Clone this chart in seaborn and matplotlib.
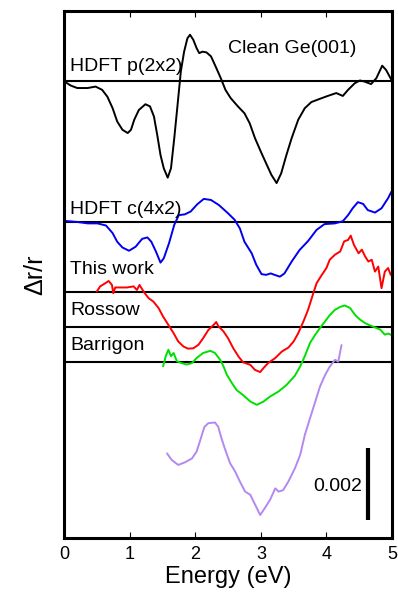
import numpy as np
import seaborn as sns
import matplotlib.pyplot as plt

# energies (eV) and dr/r (units of 1e-3, relative to each curve's baseline)
hdft_p_x = [0.0, 0.10, 0.20, 0.36, 0.48, 0.58, 0.66, 0.74, 0.81, 0.89, 0.97, 1.02, 1.07, 1.14,
            1.24, 1.31, 1.37, 1.42, 1.47, 1.52, 1.58, 1.63, 1.68, 1.73, 1.78, 1.83, 1.88, 1.92,
            1.97, 2.02, 2.06, 2.11, 2.17, 2.24, 2.31, 2.39, 2.46, 2.54, 2.65, 2.75, 2.83, 2.91,
            3.01, 3.08, 3.16, 3.24, 3.31, 3.39, 3.47, 3.57, 3.67, 3.77, 3.90, 4.02, 4.15, 4.25,
            4.33, 4.43, 4.51, 4.58, 4.68, 4.76, 4.85, 4.91, 4.99]
hdft_p_y = [0.0, -0.12, -0.19, -0.19, -0.15, -0.24, -0.43, -0.75, -1.12, -1.35, -1.44, -1.35, -1.07, -0.80,
            -0.64, -0.70, -0.98, -1.49, -2.05, -2.42, -2.68, -2.42, -1.58, -0.66, 0.27, 0.82, 1.19, 1.29,
            1.15, 0.92, 0.78, 0.82, 0.80, 0.69, 0.41, 0.08, -0.24, -0.47, -0.70, -0.89, -1.17, -1.58,
            -2.00, -2.28, -2.60, -2.83, -2.56, -2.05, -1.58, -1.07, -0.75, -0.58, -0.49, -0.41, -0.33, -0.41,
            -0.24, -0.06, 0.02, -0.01, -0.08, 0.08, 0.43, 0.31, 0.04]

hdft_c_x = [0.0, 0.20, 0.36, 0.51, 0.64, 0.74, 0.81, 0.89, 0.99, 1.09, 1.19, 1.27, 1.33, 1.40,
            1.47, 1.52, 1.60, 1.68, 1.75, 1.84, 1.93, 2.03, 2.13, 2.24, 2.36, 2.50, 2.60, 2.68,
            2.75, 2.86, 2.93, 3.01, 3.08, 3.15, 3.21, 3.29, 3.36, 3.47, 3.59, 3.72, 3.85, 3.97,
            4.13, 4.25, 4.33, 4.40, 4.48, 4.56, 4.63, 4.74, 4.84, 4.94, 4.99]
hdft_c_y = [0.03, 0.0, -0.04, -0.04, -0.10, -0.31, -0.55, -0.71, -0.80, -0.69, -0.47, -0.43, -0.55, -0.82,
            -1.13, -1.01, -0.59, -0.08, 0.19, 0.21, 0.29, 0.49, 0.64, 0.61, 0.47, 0.24, 0.06, -0.18,
            -0.55, -0.87, -1.19, -1.45, -1.47, -1.43, -1.47, -1.52, -1.43, -1.10, -0.78, -0.53, -0.22, -0.06,
            -0.04, 0.02, 0.19, 0.38, 0.55, 0.50, 0.33, 0.26, 0.38, 0.66, 0.84]

this_x = [0.50, 0.55, 0.63, 0.68, 0.73, 0.75, 0.78, 0.85, 0.96, 1.06, 1.11, 1.15, 1.18, 1.23,
          1.29, 1.36, 1.44, 1.51, 1.59, 1.67, 1.74, 1.82, 1.89, 1.97, 2.05, 2.12, 2.20, 2.28,
          2.32, 2.35, 2.43, 2.50, 2.58, 2.66, 2.73, 2.84, 2.91, 2.99, 3.04, 3.11, 3.22, 3.32,
          3.42, 3.50, 3.57, 3.65, 3.72, 3.80, 3.85, 3.93, 4.00, 4.05, 4.13, 4.21, 4.27, 4.33,
          4.37, 4.42, 4.49, 4.54, 4.59, 4.64, 4.69, 4.74, 4.79, 4.84, 4.89, 4.94, 4.98]
this_y = [0.02, 0.16, 0.25, 0.31, 0.20, -0.03, 0.13, 0.13, 0.13, 0.16, 0.06, 0.20, 0.11, -0.03,
          -0.17, -0.26, -0.44, -0.68, -0.91, -1.14, -1.37, -1.51, -1.57, -1.56, -1.46, -1.28, -1.05, -0.91,
          -0.83, -0.94, -1.09, -1.28, -1.56, -1.79, -1.95, -2.02, -2.16, -2.22, -2.11, -1.97, -1.83, -1.65,
          -1.54, -1.37, -1.14, -0.81, -0.49, -0.03, 0.25, 0.48, 0.67, 0.90, 1.04, 1.13, 1.41, 1.45,
          1.57, 1.31, 1.08, 1.18, 0.99, 0.85, 0.90, 0.57, 0.71, 0.11, 0.57, 0.67, 0.48]

rossow_x = [1.51, 1.55, 1.59, 1.63, 1.67, 1.72, 1.79, 1.87, 1.95, 2.02, 2.12, 2.23, 2.30, 2.38,
            2.43, 2.48, 2.56, 2.63, 2.73, 2.84, 2.94, 3.04, 3.14, 3.27, 3.39, 3.52, 3.60, 3.67,
            3.75, 3.83, 3.90, 3.98, 4.05, 4.13, 4.21, 4.28, 4.36, 4.44, 4.51, 4.59, 4.66, 4.74,
            4.82, 4.89, 4.94, 4.99]
rossow_y = [-0.12, 0.16, 0.34, 0.16, 0.25, 0.02, -0.03, -0.07, -0.03, 0.11, 0.25, 0.31, 0.25, 0.06,
            -0.12, -0.35, -0.59, -0.78, -0.92, -1.10, -1.19, -1.10, -0.96, -0.82, -0.64, -0.38, -0.12, 0.16,
            0.53, 0.76, 0.94, 1.13, 1.30, 1.45, 1.53, 1.57, 1.50, 1.30, 1.18, 1.08, 1.02, 0.96,
            0.90, 0.76, 0.79, 0.75]

barrigon_x = [1.57, 1.64, 1.74, 1.84, 1.95, 2.02, 2.07, 2.14, 2.20, 2.30, 2.35, 2.40, 2.45, 2.53,
              2.61, 2.68, 2.76, 2.84, 2.89, 2.99, 3.06, 3.14, 3.22, 3.27, 3.34, 3.42, 3.52, 3.60,
              3.67, 3.75, 3.83, 3.90, 3.98, 4.05, 4.13, 4.18, 4.23]
barrigon_y = [-0.04, -0.22, -0.36, -0.29, -0.18, 0.01, 0.29, 0.70, 0.80, 0.82, 0.70, 0.38, 0.10, -0.31,
              -0.55, -0.82, -1.10, -1.19, -1.38, -1.75, -1.56, -1.33, -1.01, -1.10, -1.06, -0.82, -0.45, -0.08,
              0.47, 0.94, 1.40, 1.81, 2.14, 2.37, 2.56, 2.51, 2.97]

# vertical offsets (units of 1e-3)
off_p, off_c, off_this, off_rossow, off_barr, off_purple = 12.69, 8.78, 6.83, 5.86, 4.89, 2.39

sns.set_style("ticks")
plt.rcParams['font.family'] = ['Liberation Sans', 'DejaVu Sans']
plt.rcParams['text.color'] = 'black'
plt.rcParams['axes.labelcolor'] = 'black'
plt.rcParams['xtick.color'] = 'black'

fig = plt.figure(figsize=(3.98, 5.97), dpi=100)
ax = fig.add_axes([0.161, 0.0988, 0.824, 0.8828])

lw = 1.4
sns.lineplot(x=hdft_p_x, y=np.array(hdft_p_y) + off_p, color='black', lw=lw, sort=False, ax=ax)
sns.lineplot(x=hdft_c_x, y=np.array(hdft_c_y) + off_c, color='#0000ee', lw=lw, sort=False, ax=ax)
sns.lineplot(x=this_x, y=np.array(this_y) + off_this, color='#ff0000', lw=lw, sort=False, ax=ax)
sns.lineplot(x=rossow_x, y=np.array(rossow_y) + off_barr, color='#00e000', lw=lw, sort=False, ax=ax)
sns.lineplot(x=barrigon_x, y=np.array(barrigon_y) + off_purple, color='#b388f0', lw=lw, sort=False, ax=ax)

# baselines
for off in [off_p, off_c, off_this, off_rossow, off_barr]:
    ax.axhline(off, color='black', lw=1.5, zorder=1)

# labels
ax.text(0.09, 12.98, 'HDFT p(2x2)', fontsize=14, va='baseline')
ax.text(3.48, 13.46, 'Clean Ge(001)', fontsize=14, va='baseline', ha='center')
ax.text(0.09, 9.01, 'HDFT c(4x2)', fontsize=14, va='baseline')
ax.text(0.09, 7.33, 'This work', fontsize=14, va='baseline')
ax.text(0.09, 6.19, 'Rossow', fontsize=14, va='baseline')
ax.text(0.09, 5.22, 'Barrigon', fontsize=14, va='baseline')

# scale bar
ax.plot([4.63, 4.63], [0.5, 2.5], color='black', lw=3, solid_capstyle='butt')
ax.text(4.54, 1.31, '0.002', fontsize=14, va='baseline', ha='right')

ax.set_xlim(0, 5)
ax.set_ylim(0, 14.64)
ax.set_xticks([0, 1, 2, 3, 4, 5])
ax.set_yticks([])
ax.tick_params(axis='x', direction='in', top=True, length=4, width=0.8, labelsize=13, pad=6)
ax.set_xlabel('Energy (eV)', fontsize=17, labelpad=2)
ax.set_ylabel('\u0394r/r', fontsize=18, labelpad=12)
for s in ax.spines.values():
    s.set_linewidth(2.2)
    s.set_edgecolor('black')
    s.set_visible(True)

fig.savefig('out.png', dpi=100)
